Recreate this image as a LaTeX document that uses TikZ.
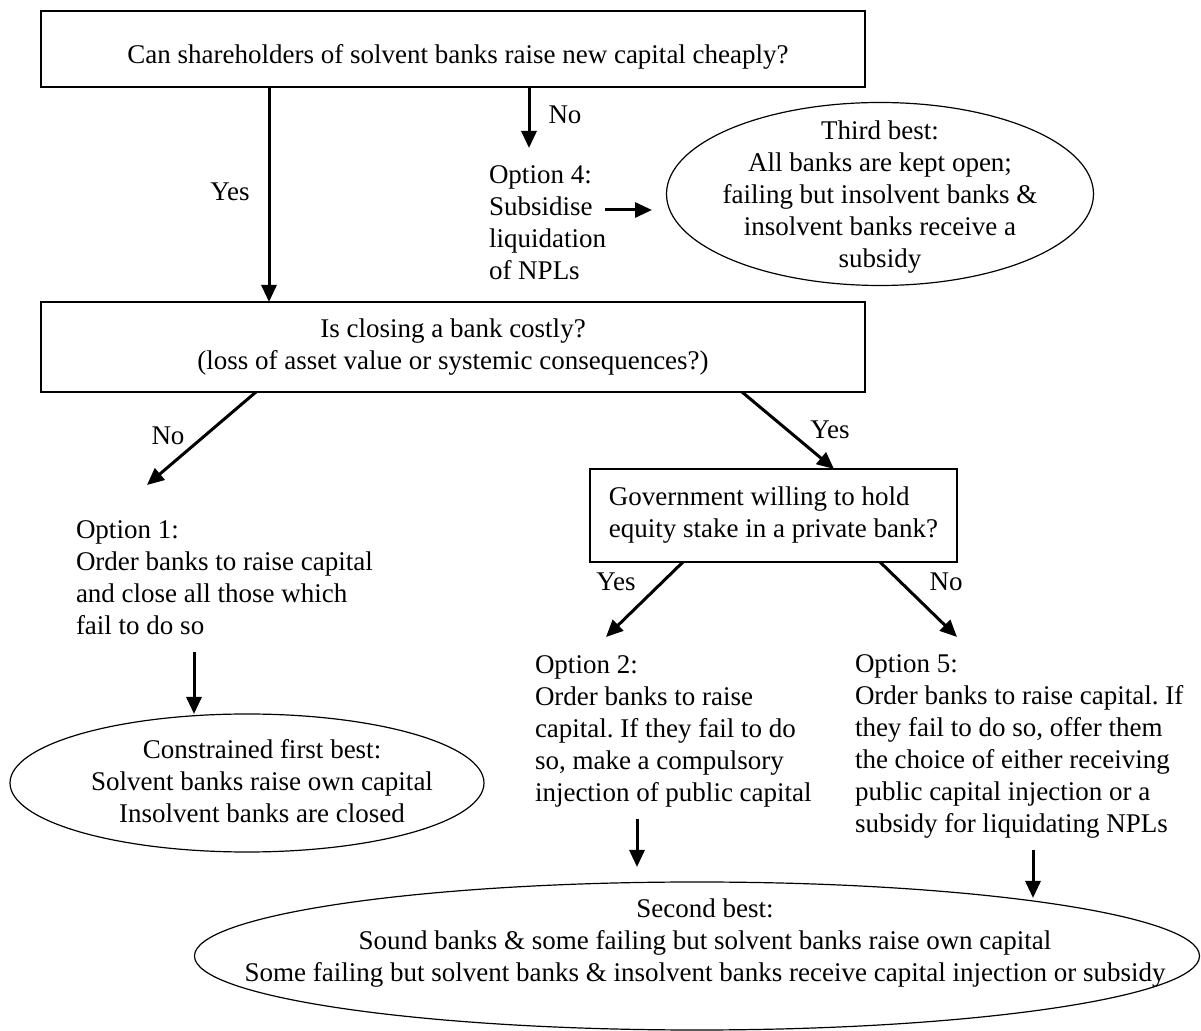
\documentclass[tikz,border=0pt]{standalone}
\usepackage{fontspec}
\setmainfont{Liberation Serif}
\usetikzlibrary{arrows.meta,calc,shapes.geometric}
\frenchspacing
\begin{document}
\begin{tikzpicture}[x=0.5pt,y=-0.5pt,
  every node/.style={font=\fontsize{13.5}{16}\selectfont, inner sep=0pt, outer sep=0pt},
  box/.style={draw, line width=0.7pt, rectangle},
  oval/.style={draw, line width=0.6pt, ellipse},
  arr/.style={line width=1.5pt, -{Triangle[length=8.5pt,width=7.5pt]}},
  txt/.style={align=left, anchor=north west},
  lab/.style={anchor=center}]
\useasboundingbox (0,0) rectangle (1201,1031);

% boxes
\node[box, minimum width=412pt, minimum height=38pt] (q1) at (453,49) {};
\node (q1t) at (458,57) {Can shareholders of solvent banks raise new capital cheaply?};
\node[box, align=center, minimum width=412pt, minimum height=45pt] (q2) at (453,347)
  {Is closing a bank costly?\\(loss of asset value or systemic consequences?)};
\node[box, align=left, minimum width=183.5pt, minimum height=46.5pt] (q3) at (773.5,515.5)
  {Government willing to hold\\equity stake in a private bank?};

% ellipses
\node[oval, minimum width=213.5pt, minimum height=91.5pt] (tb) at (880,194) {};
\node[align=center] (tbt) at (880,197) {Third best:\\All banks are kept open;\\failing but insolvent banks \&\\insolvent banks receive a\\subsidy};
\node[oval, minimum width=237pt, minimum height=69pt] (cfb) at (247,783) {};
\node[align=center] (cfbt) at (262,781) {Constrained first best:\\Solvent banks raise own capital\\Insolvent banks are closed};
\node[oval, minimum width=502.5pt, minimum height=74pt] (sb) at (697,956) {};
\node[align=center] (sbt) at (705,943.5) {Second best:\\Sound banks \& some failing but solvent banks raise own capital\\Some failing but solvent banks \& insolvent banks receive capital injection or subsidy};

% option texts
\node[txt] (opt4) at (489,166) {Option 4:\\Subsidise\\liquidation\\of NPLs};
\node[txt] (opt1) at (76,521) {Option 1:\\Order banks to raise capital\\and close all those which\\fail to do so};
\node[txt] (opt2) at (535,655.5) {Option 2:\\Order banks to raise\\capital. If they fail to do\\so, make a compulsory\\injection of public capital};
\node[txt] (opt5) at (855,655) {Option 5:\\Order banks to raise capital. If\\they fail to do so, offer them\\the choice of either receiving\\public capital injection or a\\subsidy for liquidating NPLs};

% free ends
\coordinate (e4) at (529,148);
\coordinate (s4) at (605,210);
\coordinate (e4r) at (652,210);
\coordinate (e1) at (147,485);
\coordinate (e2) at (606,637);
\coordinate (e5) at (957,637);
\coordinate (s1) at (194,652);
\coordinate (s2) at (637,819);
\coordinate (e2b) at (637,867);
\coordinate (s5) at (1033,850);
\coordinate (e5b) at (1033,898);

% connectors
\draw[arr] ($(q1.south west)+(228,0)$) -- ($(q2.north west)+(228,0)$);
\draw[arr] ($(q1.south west)+(488,0)$) -- (e4);
\draw[arr] (s4) -- (e4r);
\draw[arr] ($(q2.south west)+(215,0)$) -- (e1);
\draw[arr] ($(q2.south west)+(701,0)$) -- ($(q3.north west)+(244,0)$);
\draw[arr] ($(q3.south west)+(93,0)$) -- (e2);
\draw[arr] ($(q3.south west)+(290,0)$) -- (e5);
\draw[arr] (s1) -- (s1 |- cfb.north);
\draw[arr] (s2) -- (e2b);
\draw[arr] (s5) -- (e5b);

% labels
\node[lab] (l1) at (230,192) {Yes};
\node[lab] (l2) at (565,115) {No};
\node[lab] (l3) at (168,436) {No};
\node[lab] (l4) at (830,430) {Yes};
\node[lab] (l5) at (616,582) {Yes};
\node[lab] (l6) at (946,582) {No};
\end{tikzpicture}
\end{document}
